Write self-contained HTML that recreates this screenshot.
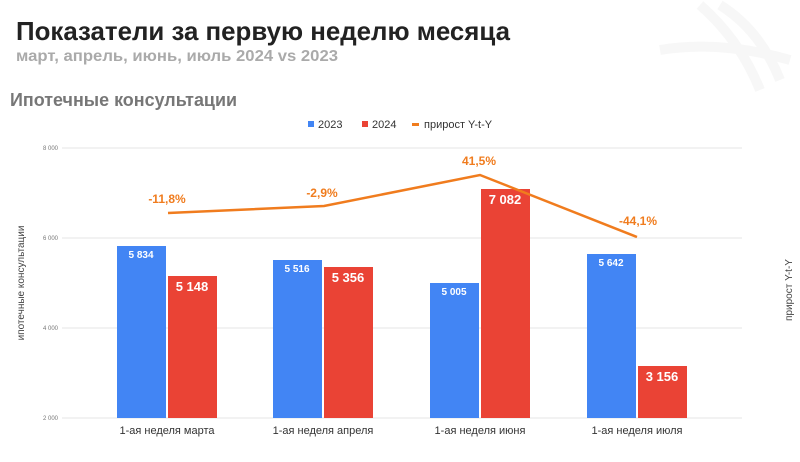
<!DOCTYPE html>
<html><head><meta charset="utf-8"><style>
body{margin:0;width:800px;height:457px;background:#fff;overflow:hidden;font-family:"Liberation Sans",sans-serif}
</style></head><body>
<svg width="800" height="457" xmlns="http://www.w3.org/2000/svg" font-family="Liberation Sans, sans-serif">
<g fill="none" stroke="#f7f7f7" stroke-width="10">
<path d="M720 5 Q760 30 780 80"/><path d="M700 5 Q740 40 760 90"/><path d="M660 50 Q720 40 790 60"/>
</g>
<text x="16" y="40" font-size="26" font-weight="bold" fill="#222" textLength="494" lengthAdjust="spacingAndGlyphs">Показатели за первую неделю месяца</text>
<text x="16" y="61" font-size="16" font-weight="bold" fill="#aaa" textLength="322" lengthAdjust="spacingAndGlyphs">март, апрель, июнь, июль 2024 vs 2023</text>
<text x="10" y="106" font-size="18" font-weight="bold" fill="#777" textLength="227" lengthAdjust="spacingAndGlyphs">Ипотечные консультации</text>
<rect x="308" y="121" width="6" height="6" fill="#4285f4"/><text x="318" y="128" font-size="11" fill="#333">2023</text>
<rect x="362" y="121" width="6" height="6" fill="#ea4335"/><text x="372" y="128" font-size="11" fill="#333">2024</text>
<rect x="412" y="123" width="7" height="3" fill="#f07c1e"/><text x="424" y="128" font-size="11" fill="#333">прирост Y-t-Y</text>
<g stroke="#e6e6e6" stroke-width="1">
<line x1="62" y1="148" x2="742" y2="148"/><line x1="62" y1="238" x2="742" y2="238"/><line x1="62" y1="328" x2="742" y2="328"/><line x1="62" y1="418" x2="742" y2="418"/>
</g>
<g font-size="6" fill="#777" text-anchor="end">
<text x="58" y="150">8 000</text><text x="58" y="240">6 000</text><text x="58" y="330">4 000</text><text x="58" y="420">2 000</text>
</g>
<text transform="translate(24,283) rotate(-90)" font-size="10" fill="#444" text-anchor="middle">ипотечные консультации</text>
<text transform="translate(792,290) rotate(-90)" font-size="10" fill="#444" text-anchor="middle">прирост Y-t-Y</text>
<g fill="#4285f4">
<rect x="117" y="246" width="49" height="172"/><rect x="273" y="260" width="49" height="158"/><rect x="430" y="283" width="49" height="135"/><rect x="587" y="254" width="49" height="164"/>
</g>
<g fill="#ea4335">
<rect x="168" y="276" width="49" height="142"/><rect x="324" y="267" width="49" height="151"/><rect x="481" y="189" width="49" height="229"/><rect x="638" y="366" width="49" height="52"/>
</g>
<g fill="#fff" font-weight="bold" text-anchor="middle">
<text x="141" y="258" font-size="10">5 834</text><text x="297" y="272" font-size="10">5 516</text><text x="454" y="295" font-size="10">5 005</text><text x="611" y="266" font-size="10">5 642</text>
<text x="192" y="291" font-size="13">5 148</text><text x="348" y="282" font-size="13">5 356</text><text x="505" y="204" font-size="13">7 082</text><text x="662" y="381" font-size="13">3 156</text>
</g>
<polyline points="168,213 324,206 480,175 637,237" fill="none" stroke="#f07c1e" stroke-width="2.5"/>
<g fill="#f07c1e" font-weight="bold" font-size="12" text-anchor="middle">
<text x="167" y="203">-11,8%</text><text x="322" y="197">-2,9%</text><text x="479" y="165">41,5%</text><text x="638" y="225">-44,1%</text>
</g>
<g font-size="11" fill="#333" text-anchor="middle">
<text x="167" y="434">1-ая неделя марта</text><text x="323" y="434">1-ая неделя апреля</text><text x="480" y="434">1-ая неделя июня</text><text x="637" y="434">1-ая неделя июля</text>
</g>
</svg>
</body></html>
